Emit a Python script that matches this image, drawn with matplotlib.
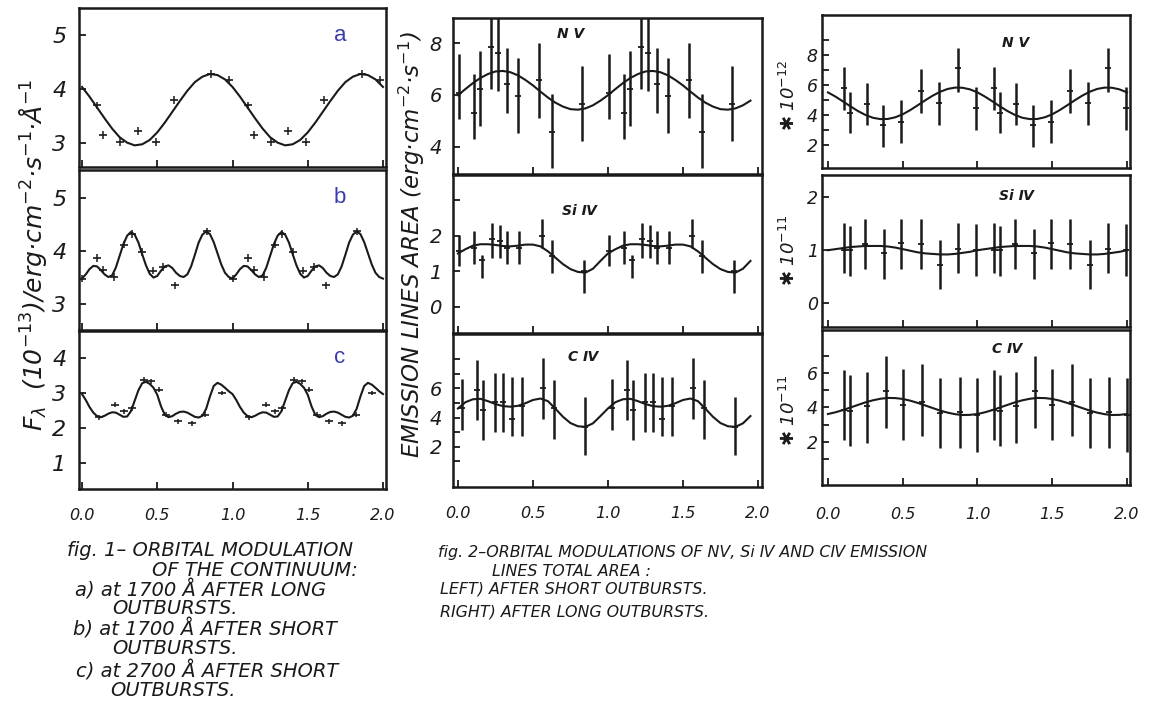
import numpy as np
import matplotlib.pyplot as plt

plt.rcParams["font.family"] = ["DejaVu Sans", "Noto Sans CJK SC"]

W, H = 1153, 702
INK = "#1a1a1a"
LABEL_BLUE = "#3b3bb0"

# phase grids for one orbital cycle of the fitted curves
PHASE_20 = np.linspace(0.0, 0.95, 20)
PHASE_40 = np.linspace(0.0, 0.975, 40)

# ---- fig. 1: continuum flux, fitted curves (one cycle) ----
fit_a = [4.04, 3.86, 3.66, 3.46, 3.27, 3.11, 3.01, 2.96, 2.98, 3.06,
         3.20, 3.38, 3.58, 3.78, 3.97, 4.13, 4.23, 4.28, 4.26, 4.18]
fit_b = [3.47, 3.55, 3.65, 3.71, 3.70, 3.63, 3.55, 3.50, 3.53, 3.68,
         3.90, 4.12, 4.28, 4.35, 4.30, 4.15, 3.93, 3.72, 3.56, 3.49,
         3.52, 3.62, 3.70, 3.72, 3.67, 3.58, 3.52, 3.50, 3.55, 3.70,
         3.92, 4.15, 4.30, 4.36, 4.31, 4.16, 3.95, 3.74, 3.58, 3.50]
fit_c = [2.97, 2.80, 2.60, 2.44, 2.34, 2.31, 2.35, 2.41, 2.45, 2.44,
         2.38, 2.32, 2.33, 2.48, 2.78, 3.08, 3.28, 3.32, 3.26, 3.15,
         2.95, 2.62, 2.38, 2.31, 2.34, 2.41, 2.46, 2.47, 2.44, 2.38,
         2.32, 2.30, 2.35, 2.55, 2.90, 3.20, 3.29, 3.24, 3.15, 3.05]

# ---- fig. 1: measured fluxes ----
phase_a = [0.10, 0.14, 0.255, 0.37, 0.49, 0.61, 0.86, 0.98]
flux_a = [3.70, 3.15, 3.02, 3.23, 3.02, 3.80, 4.28, 4.17]
phase_b = [0.0, 0.10, 0.14, 0.21, 0.28, 0.33, 0.40, 0.47, 0.54, 0.62, 0.83]
flux_b = [3.47, 3.86, 3.64, 3.50, 4.11, 4.31, 3.97, 3.62, 3.69, 3.34, 4.36]
phase_c = [0.11, 0.22, 0.28, 0.33, 0.41, 0.46, 0.51, 0.56, 0.64, 0.73, 0.82, 0.93]
flux_c = [2.31, 2.67, 2.48, 2.57, 3.38, 3.33, 3.10, 2.38, 2.19, 2.14, 2.38, 3.00]

# ---- fig. 2: emission line areas, fitted curves (one cycle) ----
fit_nv_left = [5.99, 6.23, 6.46, 6.66, 6.81, 6.91, 6.93, 6.88, 6.76, 6.58,
               6.37, 6.13, 5.90, 5.70, 5.55, 5.45, 5.43, 5.48, 5.60, 5.78]
fit_si_left = [1.50, 1.62, 1.72, 1.76, 1.76, 1.74, 1.71, 1.70, 1.72, 1.75,
               1.75, 1.70, 1.56, 1.38, 1.20, 1.06, 0.98, 0.96, 1.07, 1.29]
fit_c_left = [4.62, 5.05, 5.25, 5.28, 5.12, 4.92, 4.78, 4.74, 4.80, 4.98,
              5.20, 5.30, 5.12, 4.60, 4.05, 3.62, 3.40, 3.36, 3.60, 4.10]
fit_nv_right = [5.51, 5.23, 4.91, 4.58, 4.27, 4.01, 3.82, 3.73, 3.74, 3.85,
                4.05, 4.33, 4.65, 4.98, 5.29, 5.55, 5.74, 5.83, 5.82, 5.71]
fit_si_right = [1.00, 1.02, 1.04, 1.06, 1.07, 1.08, 1.08, 1.08, 1.07, 1.05,
                1.02, 0.99, 0.96, 0.94, 0.93, 0.92, 0.92, 0.93, 0.95, 0.97]
fit_c_right = [3.62, 3.72, 3.85, 4.00, 4.15, 4.30, 4.42, 4.51, 4.56, 4.55,
               4.50, 4.40, 4.27, 4.12, 3.97, 3.82, 3.70, 3.61, 3.56, 3.57]

# ---- fig. 2: measured line areas (phase, value, upper end, lower end) ----
nv_left_phase = [0.01, 0.11, 0.15, 0.22, 0.27, 0.33, 0.40, 0.54, 0.63, 0.83]
nv_left_val = [6.09, 5.32, 6.25, 7.87, 7.61, 6.41, 5.96, 6.58, 4.57, 5.64]
nv_left_hi = [7.57, 6.80, 7.70, 9.10, 9.00, 7.83, 7.45, 8.03, 6.03, 7.12]
nv_left_lo = [5.06, 4.28, 4.80, 6.22, 6.16, 5.32, 4.54, 5.12, 3.19, 4.22]

si_left_phase = [0.01, 0.11, 0.16, 0.23, 0.28, 0.33, 0.41, 0.56, 0.63, 0.84]
si_left_val = [1.58, 1.66, 1.31, 1.90, 1.85, 1.65, 1.65, 1.99, 1.44, 1.00]
si_left_hi = [2.03, 2.13, 1.47, 2.36, 2.31, 2.13, 2.13, 2.46, 1.89, 1.33]
si_left_lo = [1.14, 1.19, 0.81, 1.38, 1.38, 1.19, 1.19, 1.66, 0.95, 0.39]

c_left_phase = [0.03, 0.13, 0.17, 0.25, 0.30, 0.36, 0.43, 0.57, 0.64, 0.85]
c_left_val = [4.62, 5.87, 4.50, 5.07, 5.07, 3.93, 4.78, 5.99, 4.62, 3.36]
c_left_hi = [6.67, 7.93, 6.56, 7.06, 7.06, 6.79, 6.79, 8.05, 6.56, 5.42]
c_left_lo = [3.13, 3.82, 2.45, 3.02, 3.02, 2.72, 2.72, 3.93, 2.56, 1.42]

nv_right_phase = [0.11, 0.15, 0.26, 0.37, 0.49, 0.62, 0.74, 0.87, 0.99]
nv_right_val = [5.78, 4.11, 4.71, 3.33, 3.56, 5.62, 4.78, 7.11, 4.44]
nv_right_hi = [7.22, 5.56, 6.16, 4.67, 5.00, 7.04, 6.22, 8.44, 5.89]
nv_right_lo = [4.33, 2.78, 3.33, 1.89, 2.16, 4.16, 3.33, 5.56, 3.00]

si_right_phase = [0.11, 0.15, 0.25, 0.375, 0.49, 0.62, 0.75, 0.87, 0.99]
si_right_val = [1.01, 1.01, 1.11, 0.95, 1.14, 1.11, 0.73, 1.03, 1.01]
si_right_hi = [1.52, 1.45, 1.58, 1.40, 1.59, 1.58, 1.19, 1.52, 1.50]
si_right_lo = [0.57, 0.52, 0.64, 0.46, 0.65, 0.64, 0.27, 0.57, 0.52]

c_right_phase = [0.11, 0.15, 0.26, 0.385, 0.50, 0.63, 0.75, 0.88, 1.00]
c_right_val = [3.86, 3.82, 4.06, 4.94, 4.16, 4.35, 3.67, 3.71, 3.57]
c_right_hi = [6.20, 5.91, 6.10, 6.99, 6.24, 6.56, 5.72, 5.81, 5.72]
c_right_lo = [2.10, 1.76, 1.91, 2.79, 2.10, 2.34, 1.62, 1.62, 1.42]


def two_cycles(phase, values, close=False):
    # phase-folded data are shown twice, over 0-2
    p = np.asarray(phase, dtype=float)
    v = np.asarray(values, dtype=float)
    x = np.concatenate([p, p + 1.0])
    y = np.concatenate([v, v])
    if close:
        x = np.append(x, 2.0)
        y = np.append(y, v[0])
    return x, y


fig = plt.figure(figsize=(W / 100, H / 100), dpi=100)


def make_axes(box, xlim, ylim, yticks, ylabels, ysize, ypad, bottom=False, xpad=14):
    l, t, r, b = box
    ax = fig.add_axes([l / W, 1 - b / H, (r - l) / W, (b - t) / H])
    ax.set_xlim(*xlim)
    ax.set_ylim(*ylim)
    ax.set_xticks([0, 0.5, 1.0, 1.5, 2.0])
    ax.set_yticks(yticks)
    ax.set_yticklabels([str(v) if v in ylabels else "" for v in yticks],
                       fontsize=ysize, fontstyle="italic", color=INK)
    if bottom:
        ax.set_xticklabels(["0.0", "0.5", "1.0", "1.5", "2.0"],
                           fontsize=11.5, fontstyle="italic", color=INK)
    else:
        ax.set_xticklabels([])
    ax.tick_params(axis="both", direction="in", length=5, width=1.3, color=INK)
    ax.tick_params(axis="y", pad=ypad)
    ax.tick_params(axis="x", pad=xpad)
    for s in ax.spines.values():
        s.set_linewidth(1.8)
        s.set_color(INK)
    return ax


def draw_continuum(ax, phase_grid, fit, phase, flux, letter):
    x, y = two_cycles(phase_grid, fit, close=True)
    ax.plot(x, y, color=INK, lw=1.5)
    px, py = two_cycles(phase, flux)
    ax.errorbar(px, py, yerr=0.07, fmt="_", ms=6, mew=1.2, color=INK,
                elinewidth=1.1, capsize=0)
    ax.text(0.85, 0.83, letter, transform=ax.transAxes, color=LABEL_BLUE,
            fontsize=16, family="Liberation Sans", ha="center", va="center")


def draw_lines(ax, fit, phase, val, hi, lo, title, tx, ty, close=False):
    x, y = two_cycles(PHASE_20, fit, close=close)
    ax.plot(x, y, color=INK, lw=1.5)
    px, pv = two_cycles(phase, val)
    _, ph = two_cycles(phase, hi)
    _, pl = two_cycles(phase, lo)
    ax.errorbar(px, pv, yerr=[pv - pl, ph - pv], fmt="_", ms=5, mew=1.3,
                color=INK, ecolor=INK, elinewidth=1.8, capsize=0)
    ax.text(tx, ty, title, transform=ax.transAxes, fontsize=10,
            fontstyle="italic", fontweight="bold", color=INK,
            ha="center", va="center")


# fig. 1 column
ax_a = make_axes((79, 8, 386, 167), (-0.02, 2.02), (2.56, 5.5), [3, 4, 5], [3, 4, 5], 16, 9)
draw_continuum(ax_a, PHASE_20, fit_a, phase_a, flux_a, "a")
ax_b = make_axes((79, 170, 386, 330), (-0.02, 2.02), (2.5, 5.52), [3, 4, 5], [3, 4, 5], 16, 9)
draw_continuum(ax_b, PHASE_40, fit_b, phase_b, flux_b, "b")
ax_c = make_axes((79, 331, 386, 489), (-0.02, 2.02), (0.26, 4.77), [1, 2, 3, 4], [1, 2, 3, 4],
                 16, 9, bottom=True, xpad=14)
draw_continuum(ax_c, PHASE_40, fit_c, phase_c, flux_c, "c")

# fig. 2, left column (short outbursts)
ax_nl = make_axes((453, 18, 762, 174), (-0.033, 2.027), (2.94, 8.98), [4, 6, 8], [4, 6, 8], 14, 8)
draw_lines(ax_nl, fit_nv_left, nv_left_phase, nv_left_val, nv_left_hi, nv_left_lo,
           "N Ⅴ", 0.38, 0.9)
ax_sl = make_axes((453, 175, 762, 333), (-0.033, 2.027), (-0.74, 3.71), [0, 1, 2, 3], [0, 1, 2], 14, 8)
draw_lines(ax_sl, fit_si_left, si_left_phase, si_left_val, si_left_hi, si_left_lo,
           "Si Ⅳ", 0.41, 0.77)
ax_cl = make_axes((453, 334, 762, 487), (-0.033, 2.027), (-0.76, 9.72), list(range(1, 9)), [2, 4, 6],
                  14, 8, bottom=True, xpad=14)
draw_lines(ax_cl, fit_c_left, c_left_phase, c_left_val, c_left_hi, c_left_lo,
           "C Ⅳ", 0.42, 0.85)

# fig. 2, right column (long outbursts)
ax_nr = make_axes((822, 15, 1130, 168), (-0.04, 2.02), (0.47, 10.67), list(range(2, 10)), [2, 4, 6, 8],
                  12.5, 3)
draw_lines(ax_nr, fit_nv_right, nv_right_phase, nv_right_val, nv_right_hi, nv_right_lo,
           "N Ⅴ", 0.63, 0.82, close=True)
ax_sr = make_axes((822, 175, 1130, 327), (-0.04, 2.02), (-0.45, 2.42), [0, 1, 2], [0, 1, 2], 12.5, 3)
draw_lines(ax_sr, fit_si_right, si_right_phase, si_right_val, si_right_hi, si_right_lo,
           "Si Ⅳ", 0.63, 0.86, close=True)
ax_cr = make_axes((822, 330, 1130, 485), (-0.04, 2.02), (-0.53, 8.53), list(range(1, 8)), [2, 4, 6],
                  12.5, 3, bottom=True, xpad=16)
draw_lines(ax_cr, fit_c_right, c_right_phase, c_right_val, c_right_hi, c_right_lo,
           "C Ⅳ", 0.6, 0.88, close=True)

# axis titles
fig.text(33 / W, 1 - 255 / H,
         r"$F_\lambda$  (10$^{-13}$)/erg·cm$^{-2}$·s$^{-1}$·Å$^{-1}$",
         rotation=90, fontsize=18, fontstyle="italic", ha="center", va="center", color=INK)
fig.text(412 / W, 1 - 245 / H,
         r"EMISSION LINES AREA (erg·cm$^{-2}$·s$^{-1}$)",
         rotation=90, fontsize=16.5, fontstyle="italic", ha="center", va="center", color=INK)
for yc, exp in [(95, "-12"), (250, "-11"), (410, "-11")]:
    fig.text(789 / W, 1 - yc / H, "✱ 10$^{" + exp + "}$", rotation=90, fontsize=13,
             fontstyle="italic", ha="center", va="center", color=INK)

# captions
cap1 = [
    (67, 550, "fig. 1– ORBITAL MODULATION"),
    (152, 571, "OF THE CONTINUUM:"),
    (75, 590, "a) at 1700 Å AFTER LONG"),
    (112, 609, "OUTBURSTS."),
    (73, 629, "b) at 1700 Å AFTER SHORT"),
    (112, 649, "OUTBURSTS."),
    (76, 671, "c) at 2700 Å AFTER SHORT"),
    (110, 690, "OUTBURSTS."),
]
for x, y, s in cap1:
    fig.text(x / W, 1 - y / H, s, fontsize=14, fontstyle="italic",
             ha="left", va="center", color=INK)

cap2 = [
    (438, 552, "fig. 2–ORBITAL MODULATIONS OF NⅤ, Si Ⅳ AND CⅣ EMISSION"),
    (492, 571, "LINES TOTAL AREA :"),
    (440, 589, "LEFT) AFTER SHORT OUTBURSTS."),
    (440, 612, "RIGHT) AFTER LONG OUTBURSTS."),
]
for x, y, s in cap2:
    fig.text(x / W, 1 - y / H, s, fontsize=11.4, fontstyle="italic",
             ha="left", va="center", color=INK)

fig.savefig("out.png", dpi=100)
